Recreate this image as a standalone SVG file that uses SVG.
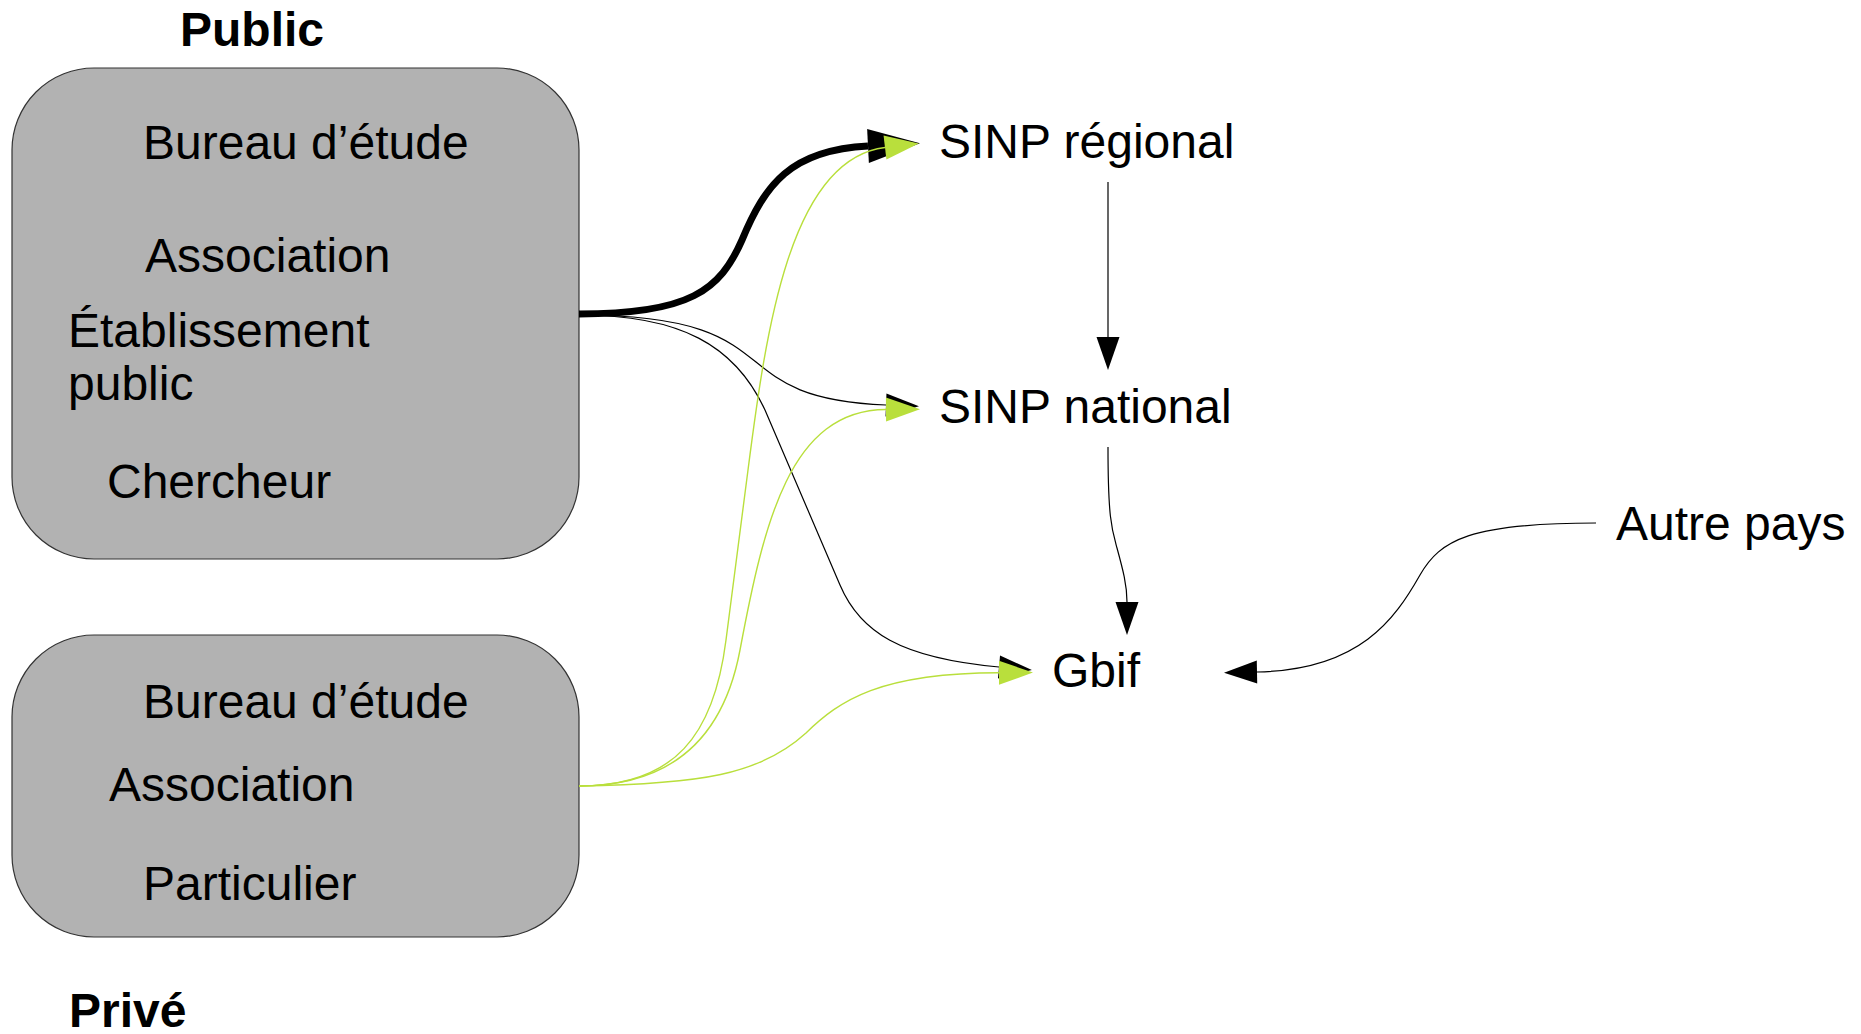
<svg xmlns="http://www.w3.org/2000/svg" width="1861" height="1034" viewBox="0 0 1861 1034">
  <style>
    .t { font-family: "Liberation Sans", Arial, sans-serif; font-size: 48px; fill: #000; }
    .b { font-weight: bold; }
    .box { fill: #b2b2b2; stroke: #333333; stroke-width: 1.2; }
    .blk { fill: none; stroke: #000; stroke-width: 1.2; }
    .thick { fill: none; stroke: #000; stroke-width: 7; }
    .grn { fill: none; stroke: #b9df3c; stroke-width: 1.4; }
  </style>
  <defs>
    <marker id="ab" markerUnits="userSpaceOnUse" markerWidth="40" markerHeight="30" viewBox="0 -15 40 30" refX="0" refY="0" orient="auto" overflow="visible">
      <path d="M0,-11.5 L33,0 L0,11.5 Z" fill="#000"/>
    </marker>
    <marker id="ag" markerUnits="userSpaceOnUse" markerWidth="40" markerHeight="30" viewBox="0 -15 40 30" refX="0" refY="0" orient="auto" overflow="visible">
      <path d="M0,-12 L34,0 L0,12 Z" fill="#b9df3c"/>
    </marker>
    <marker id="at" markerUnits="userSpaceOnUse" markerWidth="60" markerHeight="40" viewBox="0 -20 60 40" refX="0" refY="0" orient="auto" overflow="visible">
      <path d="M0,-17 L52,0 L0,17 Z" fill="#000"/>
    </marker>
  </defs>

  <rect width="1861" height="1034" fill="#fff"/>

  <g id="label-public"><text class="t b" x="180" y="46">Public</text></g>
  <g id="label-prive"><text class="t b" x="69" y="1027">Privé</text></g>

  <g id="node-public">
    <rect class="box" x="12" y="68" width="567" height="491" rx="82" ry="82"/>
    <text class="t" x="143" y="159">Bureau d’étude</text>
    <text class="t" x="145" y="272">Association</text>
    <text class="t" x="68" y="347">Établissement</text>
    <text class="t" x="68" y="400">public</text>
    <text class="t" x="107" y="498">Chercheur</text>
  </g>

  <g id="node-prive">
    <rect class="box" x="12" y="635" width="567" height="302" rx="82" ry="82"/>
    <text class="t" x="143" y="718">Bureau d’étude</text>
    <text class="t" x="109" y="801">Association</text>
    <text class="t" x="143" y="900">Particulier</text>
  </g>

  <g id="node-sinp-regional"><text class="t" x="939" y="158">SINP régional</text></g>
  <g id="node-sinp-national"><text class="t" x="939" y="423">SINP national</text></g>
  <g id="node-gbif"><text class="t" x="1052" y="687">Gbif</text></g>
  <g id="node-autre-pays"><text class="t" x="1616" y="540">Autre pays</text></g>

  <g id="connectors">
    <path class="thick" d="M579,314 C690,314 720,290 742,240 C765,185 790,150 868,146" marker-end="url(#at)"/>
    <path class="blk" d="M579,315 C800,315 712,398 886,405" marker-end="url(#ab)"/>
    <path class="blk" d="M579,315 C680,315 735,345 765,410 L840,585 C860,632 900,658 999,667" marker-end="url(#ab)"/>
    <path class="grn" d="M579,786 C675,786 714,735 726,640 L748,470 C766,330 790,159 885,147.5" marker-end="url(#ag)"/>
    <path class="grn" d="M579,786 C680,786 725,730 740,650 C764,522 790,410 886,409.5" marker-end="url(#ag)"/>
    <path class="grn" d="M579,786 C700,784 760,775 806,733 C840,700 880,673 999,672.7" marker-end="url(#ag)"/>
    <path class="blk" d="M1108,182 L1108,337" marker-end="url(#ab)"/>
    <path class="blk" d="M1108,447 C1108,520 1112,530 1117,548 C1123,570 1127,585 1127,602" marker-end="url(#ab)"/>
    <path class="blk" d="M1596,523 C1470,523 1440,540 1420,575 C1395,619 1360,670 1257,672" marker-end="url(#ab)"/>
  </g>
</svg>
